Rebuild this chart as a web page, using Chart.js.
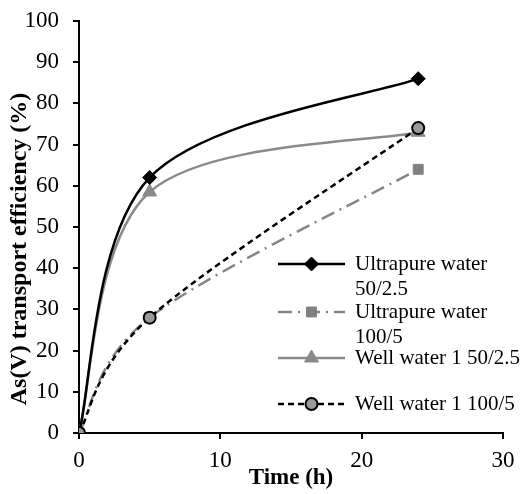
<!DOCTYPE html>
<html>
<head>
<meta charset="utf-8">
<script src="https://cdn.jsdelivr.net/npm/chart.js@4.4.0/dist/chart.umd.min.js"></script>
<style>
  body { margin: 0; background: #fff; }
  canvas { display: block; }
</style>
</head>
<body>
<canvas id="chart" width="524" height="494"></canvas>
<script>
// time points (h)
const timeHours = [0, 5, 24];

// transport efficiency (%)
const ultrapure50 = [0, 62, 86];
const ultrapure100 = [0, 28, 64];
const well50 = [0, 58.5, 73];
const well100 = [0, 28, 74];

const seriesLabels = [
  ["Ultrapure water", "50/2.5"],
  ["Ultrapure water", "100/5"],
  ["Well water 1 50/2.5"],
  ["Well water 1 100/5"]
];

const xTicks = [0, 10, 20, 30];
const yTitle = "As(V) transport efficiency (%)";
const xTitle = "Time (h)";

const serif = "'Liberation Serif', 'Times New Roman', serif";

function toPoints(vals) {
  return timeHours.map((t, i) => ({ x: t, y: vals[i] }));
}

// spreadsheet-style smoothing: control points at P(i) +- (P(i+1) - P(i-1)) / 6
const sheetSmooth = {
  id: "sheetSmooth",
  beforeDatasetDraw(chart, args) {
    const line = args.meta.dataset;
    const pts = args.meta.data;
    line.updateControlPoints(chart.chartArea, "x");
    pts.forEach((p, i) => {
      const prev = pts[Math.max(i - 1, 0)];
      const next = pts[Math.min(i + 1, pts.length - 1)];
      const dx = (next.x - prev.x) / 6;
      const dy = (next.y - prev.y) / 6;
      p.cp1x = p.x - dx;
      p.cp1y = p.y - dy;
      p.cp2x = p.x + dx;
      p.cp2y = p.y + dy;
    });
    line._path = undefined;
  }
};

// legend drawn by hand so the long labels can wrap onto two lines
const wrapLegend = {
  id: "wrapLegend",
  afterDraw(chart) {
    const ctx = chart.ctx;
    const rows = [264, 312, 358, 404];
    const x0 = 278, x1 = 345, tx = 355;
    ctx.save();
    ctx.font = "21px " + serif;
    ctx.textBaseline = "middle";
    ctx.fillStyle = "#000";
    chart.data.datasets.forEach((ds, i) => {
      const y = rows[i];
      ctx.save();
      ctx.strokeStyle = ds.borderColor;
      ctx.lineWidth = ds.borderWidth;
      ctx.setLineDash(ds.borderDash || []);
      ctx.beginPath();
      ctx.moveTo(x0, y);
      ctx.lineTo(x1, y);
      ctx.stroke();
      ctx.restore();
      ctx.save();
      ctx.fillStyle = ds.pointBackgroundColor;
      ctx.strokeStyle = ds.pointBorderColor;
      ctx.lineWidth = ds.pointBorderWidth;
      Chart.helpers.drawPoint(ctx, {
        pointStyle: ds.pointStyle,
        radius: ds.pointRadius,
        rotation: 0,
        borderWidth: ds.pointBorderWidth
      }, (x0 + x1) / 2, y);
      ctx.restore();
      ds.label.forEach((line, j) => {
        ctx.fillText(line, tx, y + j * 25);
      });
    });

    // y axis title
    ctx.font = "bold 24px " + serif;
    ctx.textAlign = "center";
    ctx.translate(20, 249);
    ctx.rotate(-Math.PI / 2);
    ctx.fillText(yTitle, 0, 0);
    ctx.restore();
  }
};

new Chart(document.getElementById("chart"), {
  type: "line",
  data: {
    datasets: [
      {
        label: seriesLabels[0],
        data: toPoints(ultrapure50),
        borderColor: "#000",
        borderWidth: 2.5,
        pointStyle: "rectRot",
        pointRadius: 7,
        pointBackgroundColor: "#000",
        pointBorderColor: "#000",
        pointBorderWidth: 1,
        tension: 0.4,
        order: 2
      },
      {
        label: seriesLabels[1],
        data: toPoints(ultrapure100),
        borderColor: "#868686",
        borderWidth: 2.5,
        borderDash: [14, 6, 2, 6],
        pointStyle: "rect",
        pointRadius: 7,
        pointBackgroundColor: "#808080",
        pointBorderColor: "#808080",
        pointBorderWidth: 1,
        tension: 0.4,
        order: 4
      },
      {
        label: seriesLabels[2],
        data: toPoints(well50),
        borderColor: "#8a8a8a",
        borderWidth: 2.5,
        pointStyle: "triangle",
        pointRadius: 8,
        pointBackgroundColor: "#8a8a8a",
        pointBorderColor: "#8a8a8a",
        pointBorderWidth: 1,
        tension: 0.4,
        order: 3
      },
      {
        label: seriesLabels[3],
        data: toPoints(well100),
        borderColor: "#000",
        borderWidth: 2.5,
        borderDash: [6, 4],
        pointStyle: "circle",
        pointRadius: 6,
        pointBackgroundColor: "#9a9a9a",
        pointBorderColor: "#000",
        pointBorderWidth: 2,
        tension: 0.4,
        order: 1
      }
    ]
  },
  options: {
    responsive: false,
    animation: false,
    layout: { padding: { top: 21, right: 21, left: 0, bottom: 0 } },
    plugins: {
      legend: { display: false },
      tooltip: { enabled: false }
    },
    scales: {
      x: {
        type: "linear",
        min: 0,
        max: 30,
        afterBuildTicks: (scale) => { scale.ticks = xTicks.map(v => ({ value: v })); },
        afterFit: (scale) => { scale.height = 61; },
        border: { color: "#000", width: 2 },
        grid: { drawOnChartArea: false, drawTicks: true, tickLength: 6, color: "#000", lineWidth: 2 },
        ticks: { color: "#000", font: { family: serif, size: 23 }, padding: 8, maxRotation: 0 },
        title: {
          display: true,
          text: xTitle,
          color: "#000",
          font: { family: serif, size: 23, weight: "bold" },
          padding: { top: 0, bottom: 2 }
        }
      },
      y: {
        min: 0,
        max: 100,
        afterFit: (scale) => {
          scale.width = 79;
          scale.paddingTop = 0;
          scale.paddingBottom = 0;
        },
        border: { color: "#000", width: 2 },
        grid: { drawOnChartArea: false, drawTicks: true, tickLength: 6, color: "#000", lineWidth: 2 },
        ticks: { stepSize: 10, color: "#000", font: { family: serif, size: 23 }, padding: 14 }
      }
    }
  },
  plugins: [sheetSmooth, wrapLegend]
});
</script>
</body>
</html>
